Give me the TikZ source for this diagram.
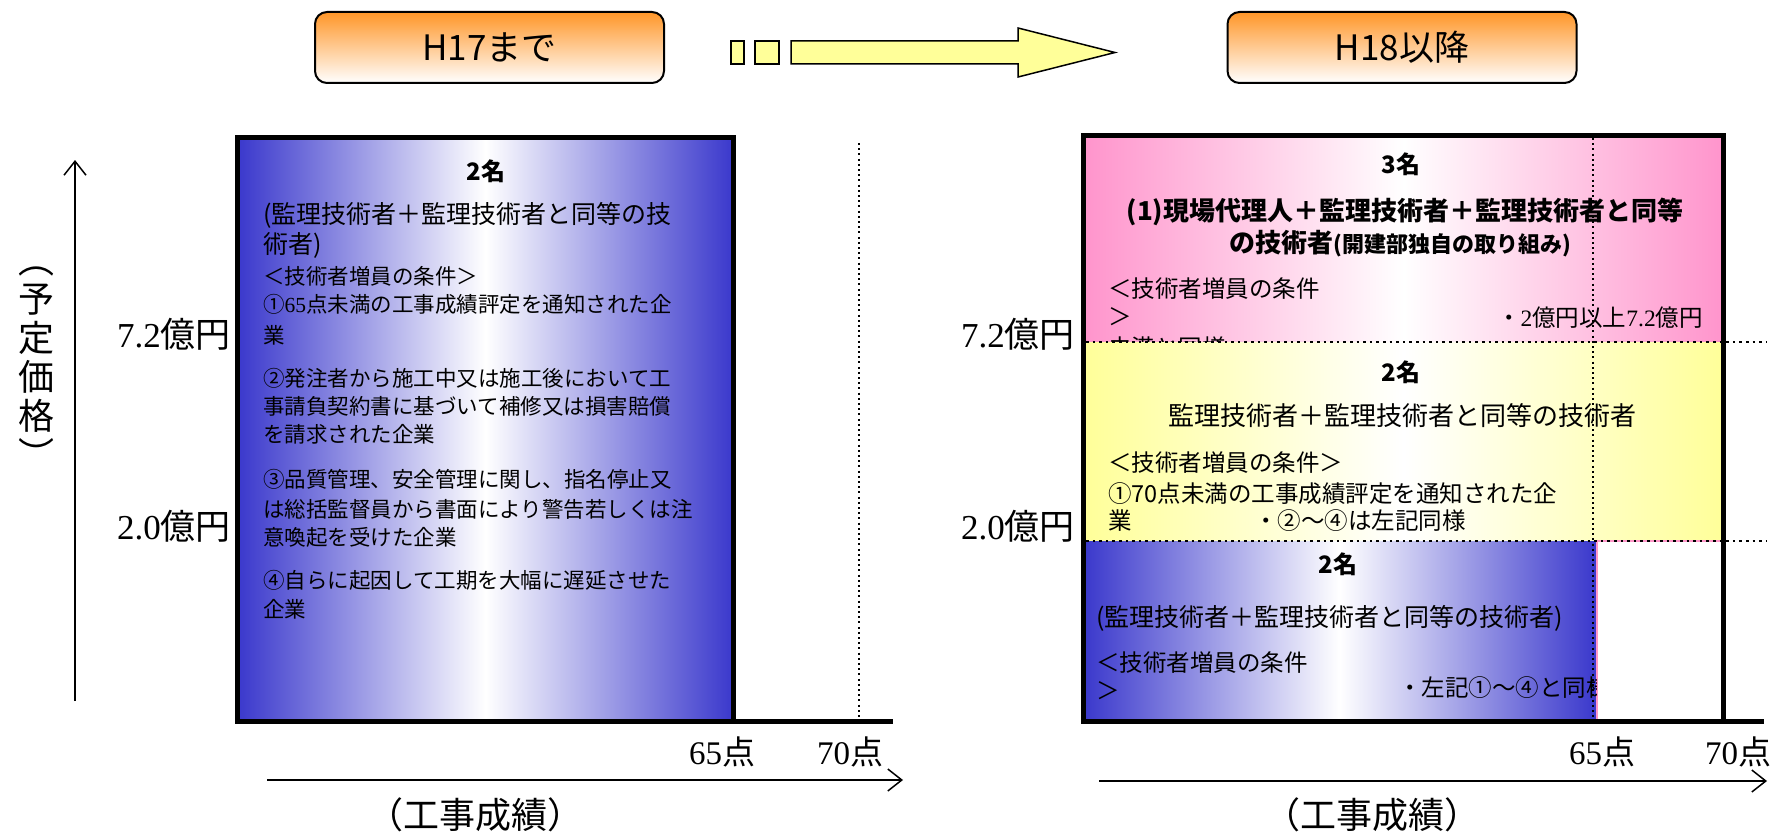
\documentclass[tikz,border=0pt]{standalone}
\usepackage{fontspec}
\usetikzlibrary{arrows.meta}
\newfontfamily\jp{Noto Sans CJK JP}
\newfontfamily\ser{Liberation Serif}
\newcommand\dg[1]{{\ser #1}}
\newcommand\fsz[2]{\fontsize{#1}{#2}\selectfont}
\definecolor{blueG}{RGB}{58,56,204}
\definecolor{pinkG}{RGB}{255,148,204}
\definecolor{yelG}{RGB}{255,255,153}
\definecolor{orgT}{RGB}{255,150,40}
\definecolor{arrY}{RGB}{255,255,153}
\definecolor{pinkL}{RGB}{255,150,200}
\tikzset{
  bt/.style={inner sep=0pt, anchor=west, font={\jp\fsz{21.5}{26}}},
  bt2/.style={inner sep=0pt, anchor=west, font={\jp\fsz{25}{30}}},
  bh/.style={inner sep=0pt, font={\jp\bfseries\fsz{24}{28}}},
  rt/.style={inner sep=0pt, anchor=west, font={\jp\fsz{23.5}{28}}},
  val/.style={inner sep=0pt, anchor=east, font={\jp\fsz{35}{40}}},
  ptl/.style={inner sep=0pt, font={\jp\fsz{33}{38}}},
  axl/.style={inner sep=0pt, font={\jp\fsz{36}{40}}},
  titlebox/.style={draw, line width=2pt, rounded corners=12pt, minimum width=349pt,
    minimum height=71pt, top color=orgT, bottom color=white, font={\jp\fsz{35}{40}}},
  frame/.style={line width=5pt},
  dotl/.style={line width=2.6pt, dash pattern=on 2.6pt off 4pt},
  dotv/.style={line width=2pt, dash pattern=on 2pt off 3.2pt},
  axisarr/.style={-{Straight Barb[length=14pt,width=22pt]}, line width=1.5pt},
  arrshape/.style={fill=arrY, draw, line width=1.5pt, line join=miter}
}
\begin{document}
\begin{tikzpicture}[x=1pt,y=-1pt]
\useasboundingbox (0,0) rectangle (1776,832);

% ---------- title boxes and arrow ----------
\node[titlebox] (h17) at (489.5,47.5) {H17まで};
\node[titlebox] (h18) at (1402,47.5) {H18以降};
\draw[arrshape] (731,41) rectangle (744,64);
\draw[arrshape] (755,41) rectangle (779,64);
\draw[arrshape] (791,41) -- (1018,41) -- (1018,28) -- (1115,52.5) -- (1018,77) -- (1018,64) -- (791,64) -- cycle;

% ---------- left chart ----------
\fill[left color=blueG, right color=blueG, middle color=white] (237.5,137.5) rectangle (733.5,721);
\draw[dotv] (859,143) -- (859,719);
\draw[frame] (237.5,721) -- (237.5,137.5) -- (733.5,137.5) -- (733.5,721);
\draw[frame] (235,721.5) -- (893,721.5);

\node[bh] (l0) at (486,171) {2名};
\node[bt2] (l1) at (263,215) {(監理技術者＋監理技術者と同等の技};
\node[bt2] (l2) at (263,245) {術者)};
\node[bt] (l3) at (263,276) {＜技術者増員の条件＞};
\node[bt] (l4) at (263,304) {①\dg{65}点未満の工事成績評定を通知された企};
\node[bt] (l5) at (263,335) {業};
\node[bt] (l6) at (263,378) {②発注者から施工中又は施工後において工};
\node[bt] (l7) at (263,406) {事請負契約書に基づいて補修又は損害賠償};
\node[bt] (l8) at (263,434) {を請求された企業};
\node[bt] (l9) at (263,479) {③品質管理、安全管理に関し、指名停止又};
\node[bt] (l10) at (263,509) {は総括監督員から書面により警告若しくは注};
\node[bt] (l11) at (263,537) {意喚起を受けた企業};
\node[bt] (l12) at (263,580) {④自らに起因して工期を大幅に遅延させた};
\node[bt] (l13) at (263,609) {企業};

\node[val] (lv72) at (231,334) {\dg{7.2}億円};
\node[val] (lv20) at (231,526) {\dg{2.0}億円};
\node[ptl] (lp65) at (722,752) {\dg{65}点};
\node[ptl] (lp70) at (850,752) {\dg{70}点};
\node[axl] (lx) at (475,815) {（工事成績）};
\node[axl, align=center, font={\jp\fsz{36}{39}}] (ly) at (36,368) {︵\\予\\定\\価\\格\\︶};

\coordinate (ya0) at (75,701);
\coordinate (ya1) at (75,160);
\draw[axisarr] (ya0) -- (ya1);
\coordinate (xa0) at (267,780);
\coordinate (xa1) at (903,780);
\draw[axisarr] (xa0) -- (xa1);

% ---------- right chart ----------
\fill[left color=pinkG, right color=pinkG, middle color=white] (1083.5,135.5) rectangle (1723.5,342);
\node[rt] (p6) at (1108,348) {未満と同様};
\fill[left color=yelG, right color=yelG, middle color=white] (1083.5,342) rectangle (1723.5,541);
\fill[left color=blueG, right color=blueG, middle color=white] (1083.5,541) rectangle (1596,720);
\draw[pinkL, line width=1.2pt] (1597,541) -- (1597,720);
\draw[pinkL, line width=1.2pt] (1596,541) -- (1722,541);

\node[bh] (p0) at (1401,164) {3名};
\node[inner sep=0pt, font={\jp\bfseries\fsz{26}{30}}] (p1) at (1405,212) {(1)現場代理人＋監理技術者＋監理技術者と同等};
\node[inner sep=0pt, font={\jp\bfseries\fsz{26}{30}}] (p2) at (1400,244) {の技術者{\fsz{22}{26}(開建部独自の取り組み)}};
\node[rt] (p3) at (1108,289) {＜技術者増員の条件};
\node[rt] (p4) at (1108,317) {＞};
\node[rt, anchor=east] (p5) at (1703,318) {・\dg{2}億円以上\dg{7.2}億円};

\node[bh] (y0) at (1401,372) {2名};
\node[inner sep=0pt, font={\jp\fsz{26}{30}}] (y1) at (1402,416) {監理技術者＋監理技術者と同等の技術者};
\node[rt] (y2) at (1108,463) {＜技術者増員の条件＞};
\node[rt] (y3) at (1108,494) {①70点未満の工事成績評定を通知された企};
\node[rt] (y4) at (1108,521) {業};
\node[rt] (y5) at (1254,521) {・②～④は左記同様};

\node[bh] (b0) at (1338,564) {2名};
\node[inner sep=0pt, anchor=west, font={\jp\fsz{25}{30}}] (b1) at (1096,618) {(監理技術者＋監理技術者と同等の技術者)};
\node[rt] (b2) at (1096,663) {＜技術者増員の条件};
\node[rt] (b3) at (1096,691) {＞};
\begin{scope}
  \clip (1083.5,541) rectangle (1596,720);
  \node[rt] (b4) at (1398,688) {・左記①～④と同様};
\end{scope}

\draw[dotl] (1086,342) -- (1767,342);
\draw[dotl] (1086,541) -- (1767,541);
\draw[dotv] (1593,138) -- (1593,719);
\draw[frame] (1083.5,721) -- (1083.5,135.5) -- (1723.5,135.5) -- (1723.5,721);
\draw[frame] (1081,721.5) -- (1764,721.5);

\node[val] (rv72) at (1075,334) {\dg{7.2}億円};
\node[val] (rv20) at (1075,526) {\dg{2.0}億円};
\node[ptl] (rp65) at (1602,752) {\dg{65}点};
\node[ptl] (rp70) at (1738,752) {\dg{70}点};
\node[axl] (rx) at (1372,815) {（工事成績）};
\coordinate (xb0) at (1099,781);
\coordinate (xb1) at (1767,781);
\draw[axisarr] (xb0) -- (xb1);
\end{tikzpicture}
\end{document}
